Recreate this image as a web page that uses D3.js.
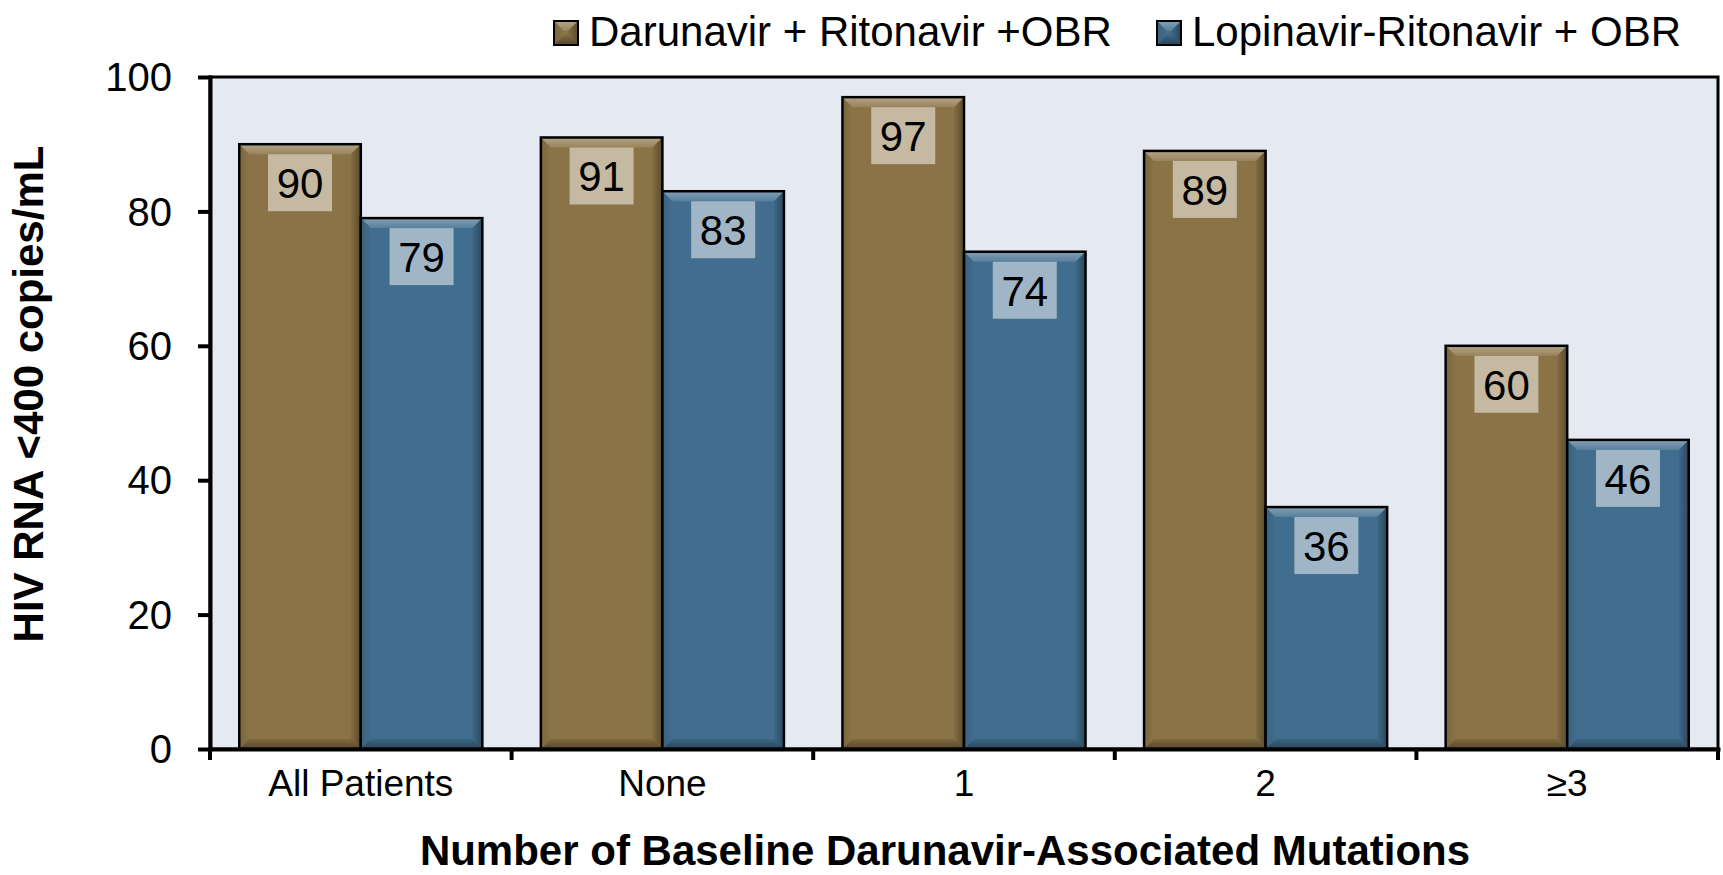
<!DOCTYPE html>
<html>
<head>
<meta charset="utf-8">
<script src="https://cdn.jsdelivr.net/npm/d3@7"></script>
<style>
  body { margin: 0; background: #fff; }
  svg { display: block; font-family: "Liberation Sans", Arial, sans-serif; }
</style>
</head>
<body>
<div id="chart"></div>
<script>
// Chart data
const categories = ['All Patients', 'None', '1', '2', '\u22653'];
const seriesNames = ['Darunavir + Ritonavir +OBR', 'Lopinavir-Ritonavir + OBR'];
const darunavir = [90, 91, 97, 89, 60];
const lopinavir = [79, 83, 74, 36, 46];
const yTicks = [0, 20, 40, 60, 80, 100];

const seriesColors = ['#8a7346', '#416e8e'];
const labelBoxColors = ['#c5b9a2', '#a0b6c6'];

const W = 1723, H = 875;
const margin = { top: 77, right: 5, bottom: 126, left: 210 };
const width = W - margin.left - margin.right;
const height = H - margin.top - margin.bottom;

const svg = d3.select('#chart')
    .append('svg')
    .attr('width', W)
    .attr('height', H);

// Gradients for the bevel look
const defs = svg.append('defs');
function grad(id, x2, y2, stops) {
    const g = defs.append('linearGradient')
        .attr('id', id)
        .attr('x1', 0).attr('y1', 0)
        .attr('x2', x2).attr('y2', y2);
    stops.forEach(s => g.append('stop')
        .attr('offset', s[0])
        .attr('stop-color', s[1])
        .attr('stop-opacity', s[2]));
}
grad('bevTop', 0, 1, [[0, '#fff', 0.35], [1, '#fff', 0.12]]);
grad('bevLeft', 1, 0, [[0, '#000', 0.12], [1, '#000', 0.0]]);
grad('bevRight', 1, 0, [[0, '#000', 0.05], [1, '#000', 0.35]]);
grad('bevBottom', 0, 1, [[0, '#000', 0.08], [1, '#000', 0.38]]);

function bevel(g, x, y, w, h, b, color, strokeW) {
    b = Math.min(b, w / 2, h / 2);
    g.append('rect')
        .attr('x', x).attr('y', y)
        .attr('width', w).attr('height', h)
        .attr('fill', color);
    const polys = [
        [[x, y], [x + w, y], [x + w - b, y + b], [x + b, y + b], 'bevTop'],
        [[x, y], [x + b, y + b], [x + b, y + h - b], [x, y + h], 'bevLeft'],
        [[x + w, y], [x + w, y + h], [x + w - b, y + h - b], [x + w - b, y + b], 'bevRight'],
        [[x, y + h], [x + b, y + h - b], [x + w - b, y + h - b], [x + w, y + h], 'bevBottom']
    ];
    polys.forEach(p => {
        g.append('polygon')
            .attr('points', p.slice(0, 4).map(d => d.join(',')).join(' '))
            .attr('fill', `url(#${p[4]})`);
    });
    g.append('rect')
        .attr('x', x).attr('y', y)
        .attr('width', w).attr('height', h)
        .attr('fill', 'none')
        .attr('stroke', '#000')
        .attr('stroke-width', strokeW);
}

const plot = svg.append('g')
    .attr('transform', `translate(${margin.left},${margin.top})`);

// Scales
const x0 = d3.scaleBand()
    .domain(categories)
    .range([0, width])
    .paddingInner(0.194)
    .paddingOuter(0.097);

const x1 = d3.scaleBand()
    .domain([0, 1])
    .range([0, x0.bandwidth()]);

const y = d3.scaleLinear()
    .domain([0, 100])
    .range([height, 0]);

// Plot background with frame
plot.append('rect')
    .attr('width', width)
    .attr('height', height)
    .attr('fill', '#e5e9f2')
    .attr('stroke', '#000')
    .attr('stroke-width', 3);

// Bars
const series = [darunavir, lopinavir];
const bars = plot.append('g');
categories.forEach((cat, i) => {
    series.forEach((vals, s) => {
        const bx = x0(cat) + x1(s);
        const by = y(vals[i]);
        bevel(bars, bx, by, x1.bandwidth(), height - by, 10, seriesColors[s], 2.5);
    });
});

// Value labels
categories.forEach((cat, i) => {
    series.forEach((vals, s) => {
        const cx = x0(cat) + x1(s) + x1.bandwidth() / 2;
        const top = y(vals[i]) + 10;
        bars.append('rect')
            .attr('x', cx - 32)
            .attr('y', top)
            .attr('width', 64)
            .attr('height', 57)
            .attr('fill', labelBoxColors[s]);
        bars.append('text')
            .attr('x', cx)
            .attr('y', top + 44)
            .attr('text-anchor', 'middle')
            .style('font-size', '42px')
            .style('fill', '#000')
            .text(vals[i]);
    });
});

// Y axis
const yAxis = plot.append('g')
    .call(d3.axisLeft(y)
        .tickValues(yTicks)
        .tickSize(12)
        .tickSizeOuter(0)
        .tickPadding(26));
yAxis.select('.domain').attr('stroke-width', 4).attr('stroke-linecap', 'square');
yAxis.selectAll('.tick line').attr('stroke-width', 4);
yAxis.selectAll('text')
    .style('font-size', '40px')
    .style('fill', '#000')
    .attr('dy', '0.34em');

// X axis
const xAxis = plot.append('g')
    .attr('transform', `translate(0,${height})`)
    .call(d3.axisBottom(x0)
        .tickSize(0)
        .tickSizeOuter(0)
        .tickPadding(21));
xAxis.select('.domain').attr('stroke-width', 4).attr('stroke-linecap', 'square');
xAxis.selectAll('text')
    .style('font-size', '37px')
    .style('fill', '#000');

// Category boundary ticks
xAxis.selectAll('.bound')
    .data(d3.range(categories.length + 1))
    .enter()
    .append('line')
    .attr('class', 'bound')
    .attr('x1', d => d * x0.step())
    .attr('x2', d => d * x0.step())
    .attr('y1', 0)
    .attr('y2', 11)
    .attr('stroke', '#000')
    .attr('stroke-width', 4);

// Axis titles
svg.append('text')
    .attr('transform', 'translate(43,394) rotate(-90)')
    .attr('text-anchor', 'middle')
    .style('font-size', '42px')
    .style('font-weight', 'bold')
    .text('HIV RNA <400 copies/mL');

svg.append('text')
    .attr('x', 945)
    .attr('y', 865)
    .attr('text-anchor', 'middle')
    .style('font-size', '42px')
    .style('font-weight', 'bold')
    .text('Number of Baseline Darunavir-Associated Mutations');

// Legend
const legendPos = [554, 1157];
const legend = svg.append('g');
seriesNames.forEach((name, s) => {
    bevel(legend, legendPos[s], 21, 24, 24, 10, seriesColors[s], 2);
    legend.append('text')
        .attr('x', legendPos[s] + 35)
        .attr('y', 46)
        .style('font-size', '42px')
        .style('fill', '#000')
        .text(name);
});
</script>
</body>
</html>
